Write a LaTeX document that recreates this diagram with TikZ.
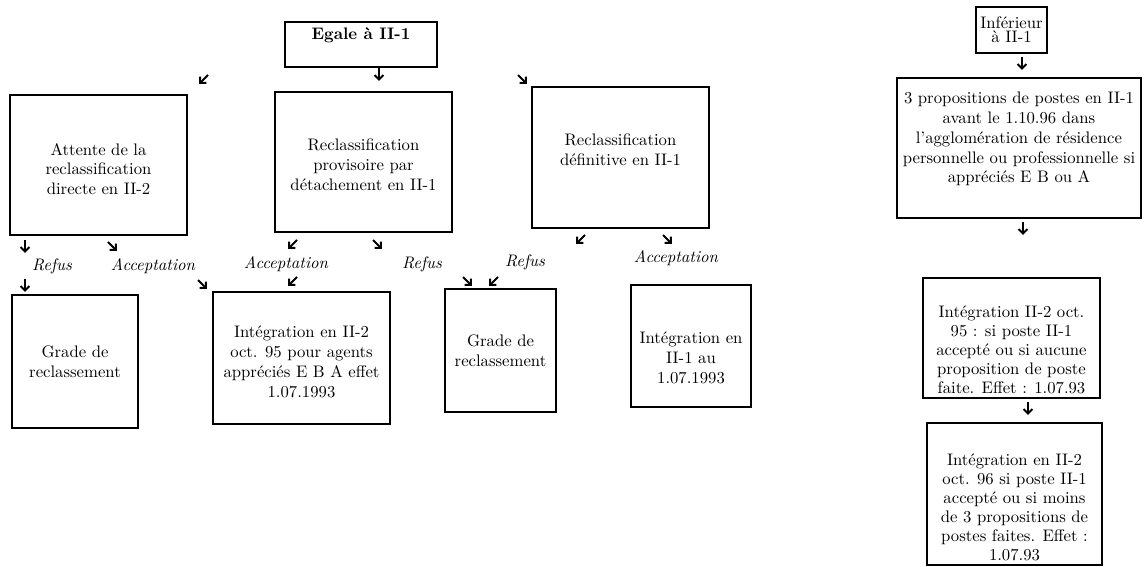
\documentclass[tikz,border=0pt]{standalone}
\usetikzlibrary{arrows.meta, positioning}

\begin{document}
\begin{tikzpicture}[
  x=0.02cm, y=-0.02cm,
  font=\fontsize{9.5}{11.3}\selectfont,
  box/.style={draw, line width=0.8pt, inner sep=0pt},
  txt/.style={align=center, inner sep=0pt},
  tick/.style={-{Straight Barb[length=2.6pt, width=5pt]}, line width=1.1pt},
  choix/.style={font=\fontsize{9.5}{11}\selectfont\itshape, inner sep=1pt}
]
  \useasboundingbox (0,0) rectangle (1146,567);

  %--- top of left branch ---
  \node[box, line width=1.6pt, minimum width=3.04cm, minimum height=0.9cm]
    (egale) at (361,44.5) {};
  \node[txt, font=\fontsize{9.5}{11}\selectfont\bfseries]
    (egaleT) at ([yshift=0.19cm]egale.center) {Egale à II-1};

  %--- three choices ---
  \node[box, minimum width=3.54cm, minimum height=2.8cm] (attente) at (98.5,165) {};
  \node[txt] (attenteT) at ([yshift=-0.08cm]attente.center)
    {Attente de la\\reclassification\\directe en II-2};

  \node[box, minimum width=3.54cm, minimum height=2.8cm] (provis) at (363.5,162) {};
  \node[txt] (provisT) at ([yshift=-0.06cm]provis.center)
    {Reclassification\\provisoire par\\détachement en II-1};

  \node[box, minimum width=3.54cm, minimum height=2.82cm] (defin) at (620.5,157.5) {};
  \node[txt] (definT) at ([yshift=0.15cm]defin.center)
    {Reclassification\\définitive en II-1};

  %--- outcomes ---
  \node[box, minimum width=2.52cm, minimum height=2.66cm] (grade1) at (75,361.5) {};
  \node[txt] (grade1T) at (grade1.center) {Grade de\\reclassement};

  \node[box, minimum width=3.54cm, minimum height=2.64cm] (integ1) at (301.5,358) {};
  \node[txt] (integ1T) at ([yshift=-0.08cm]integ1.center)
    {Intégration en II-2\\oct. 95 pour agents\\appréciés E B A effet\\1.07.1993};

  \node[box, minimum width=2.22cm, minimum height=2.46cm] (grade2) at (500.5,350.5) {};
  \node[txt] (grade2T) at (grade2.center) {Grade de\\reclassement};

  \node[box, minimum width=2.4cm, minimum height=2.44cm] (integ2) at (691,346) {};
  \node[txt] (integ2T) at ([yshift=-0.24cm]integ2.center)
    {Intégration en\\II-1 au\\1.07.1993};

  %--- right branch ---
  \node[box, minimum width=1.42cm, minimum height=0.92cm] (inf) at (1011.5,30) {};
  \node[txt, font=\fontsize{9.5}{8}\selectfont] (infT) at (inf.center)
    {Inférieur\\à II-1};

  \node[box, minimum width=4.88cm, minimum height=2.8cm] (propos) at (1019,148) {};
  \node[txt] (proposT) at ([yshift=0.18cm]propos.center)
    {3 propositions de postes en II-1\\avant le 1.10.96 dans\\l'agglomération de résidence\\personnelle ou professionnelle si\\appréciés E B ou A};

  \node[box, minimum width=3.54cm, minimum height=2.4cm] (integR2) at (1011.5,338) {};
  \node[txt, font=\fontsize{9.5}{10.8}\selectfont] (integR2T) at ([yshift=-0.24cm]integR2.center)
    {Intégration II-2 oct.\\95 : si poste II-1\\accepté ou si aucune\\proposition de poste\\faite. Effet : 1.07.93};

  \node[box, minimum width=3.5cm, minimum height=2.84cm] (integR3) at (1014.5,494) {};
  \node[txt, font=\fontsize{9.5}{10.8}\selectfont] (integR3T) at ([yshift=-0.26cm]integR3.center)
    {Intégration en II-2\\oct. 96 si poste II-1\\accepté ou si moins\\de 3 propositions de\\postes faites. Effet :\\1.07.93};

  %--- answers ---
  \node[choix] (refus1) at (52,266) {Refus};
  \node[choix] (accept1) at (153,266) {Acceptation};
  \node[choix] (accept2) at (286,264) {Acceptation};
  \node[choix] (refus2) at (422,264) {Refus};
  \node[choix] (refus3) at (525,262) {Refus};
  \node[choix] (accept3) at (676,258) {Acceptation};

  %--- small arrows ---
  % straight down
  \foreach \x/\y in {379/68, 25/240, 25/279, 1022/57, 1023/222, 1028/402}
    \draw[tick] (\x,\y) -- ++(0,13);
  % down-left
  \foreach \x/\y in {208/75, 297/240, 297/277, 498/277, 585/235}
    \draw[tick] (\x,\y) -- ++(-9,9);
  % down-right
  \foreach \x/\y in {518/75, 108/242, 198/280, 373/240, 463/277, 663/235}
    \draw[tick] (\x,\y) -- ++(9,9);

\end{tikzpicture}
\end{document}
